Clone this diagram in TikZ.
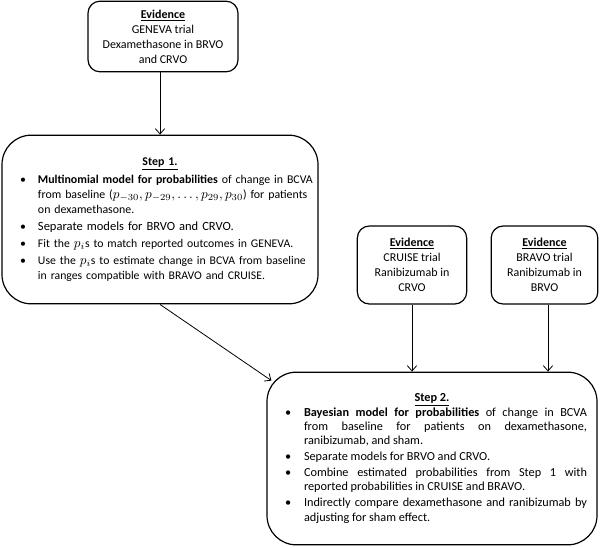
\documentclass[tikz,border=0pt]{standalone}
\usepackage{fontspec}
\setmainfont{Carlito}
\usepackage{amsmath}
\usepackage{enumitem}
\usetikzlibrary{arrows.meta, positioning, calc}
\hyphenpenalty=10000
\exhyphenpenalty=10000
\newcommand{\bigmath}[1]{{\fontsize{10}{11}\selectfont$#1$}}

\setlist[itemize]{label=\textbullet, labelwidth=5pt, leftmargin=!, align=left, topsep=0pt, partopsep=0pt, parsep=0pt, itemsep=1.5pt}

\begin{document}
\begin{tikzpicture}[
  x=0.75pt, y=-0.75pt,
  evbox/.style={rectangle, rounded corners=9pt, draw, line width=0.9pt, align=center, inner sep=0pt, font=\fontsize{9}{11.25}\selectfont},
  stepbox/.style={rectangle, rounded corners=22pt, draw, line width=0.9pt, inner sep=0pt},
  arrow/.style={-{Straight Barb[length=4pt, width=7pt]}, line width=0.6pt},
]
\useasboundingbox (0,0) rectangle (600,547);

\node[evbox, minimum width=112.5pt, minimum height=53pt] (geneva) at (163,36.5)
  {\underline{\textbf{Evidence}}\\GENEVA trial\\Dexamethasone in BRVO\\and CRVO};
\node[evbox, minimum width=82pt, minimum height=58.5pt] (cruise) at (412,265)
  {\underline{\textbf{Evidence}}\\CRUISE trial\\Ranibizumab in\\CRVO};
\node[evbox, minimum width=80pt, minimum height=58.5pt] (bravo) at (544.5,265)
  {\underline{\textbf{Evidence}}\\BRAVO trial\\Ranibizumab in\\BRVO};

\node[stepbox, minimum width=237pt, minimum height=126.5pt, text width=232pt, align=left,
  font=\fontsize{8.9}{11.25}\selectfont] (step1) at (160,219.5)
  {{\centering\underline{\textbf{Step 1.}}\par}\vspace{2pt}
  \begin{itemize}[labelindent=11pt, labelsep=8.5pt]
  \item \textbf{Multinomial model for probabilities} of change in BCVA\\from baseline (\bigmath{p_{-30}, p_{-29}, \dots, p_{29}, p_{30}}) for patients\\on dexamethasone.
  \item {\fontsize{9.4}{11.25}\selectfont Separate models for BRVO and CRVO.}
  \item {\fontsize{8.8}{11.25}\selectfont Fit the \bigmath{p_i}s to match reported outcomes in GENEVA.}
  \item {\fontsize{8.8}{11.25}\selectfont Use the \bigmath{p_i}s to estimate change in BCVA from baseline\\in ranges compatible with BRAVO and CRUISE.}
  \end{itemize}};

\node[stepbox, minimum width=247.5pt, minimum height=129.5pt, text width=232.5pt, align=justify,
  font=\fontsize{9.2}{10.6}\selectfont] (step2) at (432,458.5)
  {{\centering\underline{\textbf{Step 2.}}\par}
  \begin{itemize}[labelindent=6pt, labelsep=9.25pt]
  \item \textbf{Bayesian model for probabilities} of change in BCVA\linebreak from baseline for patients on dexamethasone,\linebreak ranibizumab, and sham.
  \item Separate models for BRVO and CRVO.
  \item Combine estimated probabilities from Step 1 with\linebreak reported probabilities in CRUISE and BRAVO.
  \item Indirectly compare dexamethasone and ranibizumab by\linebreak adjusting for sham effect.
  \end{itemize}};

\draw[arrow] (geneva.south -| 160,0) -- (step1.north -| 160,0);
\draw[arrow] (cruise) -- (cruise |- step2.north);
\draw[arrow] (bravo.south -| 548,0) -- (step2.north -| 548,0);
\draw[arrow] (step1.south) -- ($(step2.north west)+(5,9)$);
\end{tikzpicture}
\end{document}
